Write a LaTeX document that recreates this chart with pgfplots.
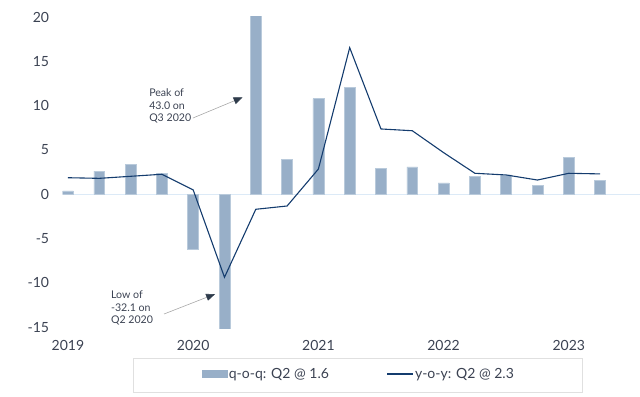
\documentclass[border=0pt]{standalone}
\usepackage{fontspec}
\setmainfont{Lato}
\usepackage{pgfplots}
\pgfplotsset{compat=1.18}
\usetikzlibrary{arrows.meta}
\definecolor{barblue}{HTML}{98AFC8}
\definecolor{baredge}{HTML}{B9CADB}
\definecolor{navy}{HTML}{143C6E}
\definecolor{txt}{HTML}{3B4252}
\definecolor{zeroline}{HTML}{DCEAF7}
\definecolor{legbox}{HTML}{E0E0E0}
\definecolor{arrowgray}{HTML}{A8A8A8}
\definecolor{arrowhead}{HTML}{2E3B4B}
\begin{document}
\begin{tikzpicture}
\path[use as bounding box] (0bp,0bp) rectangle (640bp,397bp);
\draw[legbox, line width=0.8bp] (133.3bp,4.3bp) rectangle (582bp,38.7bp);
\begin{axis}[
  at={(62.7bp,68.3bp)}, anchor=south west,
  scale only axis, width=577.3bp, height=311.7bp,
  xmin=-0.169, xmax=18.275, ymin=-15.16, ymax=20,
  axis line style={draw=none},
  major tick length=0pt,
  xtick={0,4,8,12,16}, xticklabels={2019,2020,2021,2022,2023},
  ytick={-15,-10,-5,0,5,10,15,20},
  /pgf/number format/assume math mode=true,
  ticklabel style={font=\fontsize{14bp}{16bp}\selectfont, text=txt, inner sep=0pt},
  xticklabel style={anchor=north, yshift=-11.6bp},
  yticklabel style={anchor=east, xshift=-13.4bp},
  legend style={at={(axis description cs:0.512,-0.1453)}, anchor=center,
    draw=none, fill=none, font=\fontsize{14bp}{16bp}\selectfont, text=txt,
    inner sep=0pt, nodes={inner sep=1bp},
    /tikz/every even column/.append style={column sep=57bp}},
  legend columns=2,
  legend cell align=left,
]
\draw[zeroline, line width=1.2bp] (axis cs:-0.169,0) -- (axis cs:18.275,0);
\addplot[ybar, bar width=10.9bp, fill=barblue, draw=baredge, line width=0.5bp,
  legend image code/.code={\fill[barblue] (0bp,-3.3bp) rectangle (25.7bp,3.3bp);}]
  coordinates {
  (0,0.4) (1,2.6) (2,3.4) (3,2.4) (4,-6.2) (5,-32.1) (6,43.0) (7,3.9)
  (8,10.8) (9,12.1) (10,2.9) (11,3.1) (12,1.3) (13,2.0) (14,2.2) (15,1.0)
  (16,4.2) (17,1.6)};
\addlegendentry{q-o-q: Q2 @ 1.6}
\addplot[navy, line width=1.1bp, mark=none, sharp plot,
  legend image code/.code={\draw[navy, line width=1.1bp] (0bp,0bp) -- (26bp,0bp);}]
  coordinates {
  (0,1.87) (1,1.80) (2,2.03) (3,2.26) (4,0.49) (5,-9.36) (6,-1.69) (7,-1.32)
  (8,2.85) (9,16.54) (10,7.37) (11,7.17) (12,4.7) (13,2.37) (14,2.18) (15,1.61)
  (16,2.37) (17,2.3)};
\addlegendentry{y-o-y: Q2 @ 2.3}
\node[anchor=west, align=left, font=\fontsize{10.6bp}{12.4bp}\selectfont, text=txt, inner sep=0pt]
  at (axis cs:2.59,9.94) {Peak of\\43.0 on\\Q3 2020};
\draw[arrowgray, line width=0.6bp, -{Triangle[length=9bp,width=7bp,color=arrowhead]}]
  (axis cs:3.99,8.6) -- (axis cs:5.58,10.94);
\node[anchor=west, align=left, font=\fontsize{10.6bp}{12.4bp}\selectfont, text=txt, inner sep=0pt]
  at (axis cs:1.37,-12.83) {Low of\\-32.1 on\\Q2 2020};
\draw[arrowgray, line width=0.6bp, -{Triangle[length=9bp,width=7bp,color=arrowhead]}]
  (axis cs:3.07,-13.5) -- (axis cs:4.70,-11.25);
\end{axis}
\end{tikzpicture}
\end{document}
